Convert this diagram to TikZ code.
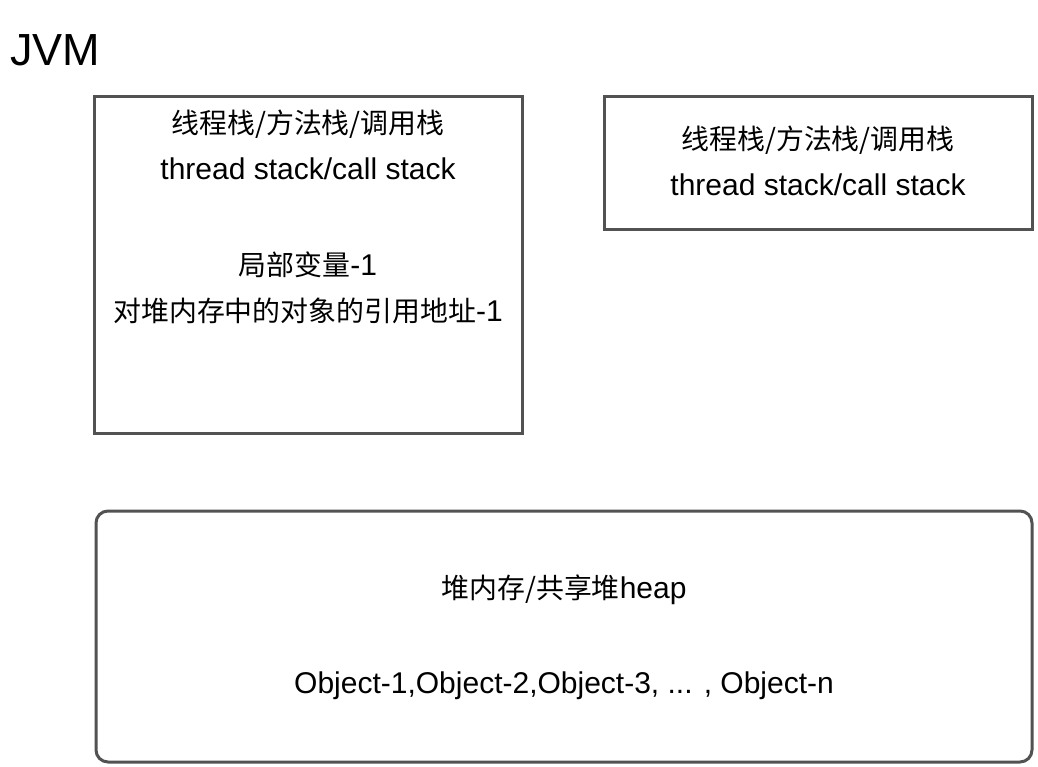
\documentclass[tikz,border=0pt]{standalone}
\usepackage{fontspec}
\setmainfont{Liberation Sans}
\newfontfamily\cjk{Noto Sans CJK SC}[Scale=0.93]
\usetikzlibrary{positioning}
\tikzset{
  box/.style={draw=black!68, line width=3pt, fill=white},
  txt/.style={font=\fontsize{30}{46}\selectfont, align=center, inner sep=0pt}
}
\begin{document}
\begin{tikzpicture}[x=1pt, y=-1pt]
    \fill[white] (0,0) rectangle (1038,766);
    \node[anchor=west, inner sep=0pt, font=\fontsize{45}{50}\selectfont] (jvm) at (10,50) {JVM};
    % thread stacks
    \node[box, minimum width=428, minimum height=337] (stackA) at (308,264.5) {};
    \node[box, minimum width=428, minimum height=133] (stackB) at (818,162.5) {};
    \node[txt, anchor=north] (stackAtxt) at (308,110) {{\cjk 线程栈/方法栈/调用栈}\\thread stack/call stack\\[50pt]{\cjk 局部变量}-1\\{\cjk 对堆内存中的对象的引用地址}-1};
    \node[txt, anchor=north] (stackBtxt) at (818,126) {{\cjk 线程栈/方法栈/调用栈}\\thread stack/call stack};
    % heap
    \node[box, rounded corners=12pt, minimum width=936, minimum height=251] (heap) at (564,636.5) {};
    \node[txt] (heapA) at (564,590) {{\cjk 堆内存/共享堆}heap};
    \node[txt] (heapB) at (564,686) {Object-1,Object-2,Object-3, ... , Object-n};
\end{tikzpicture}
\end{document}
